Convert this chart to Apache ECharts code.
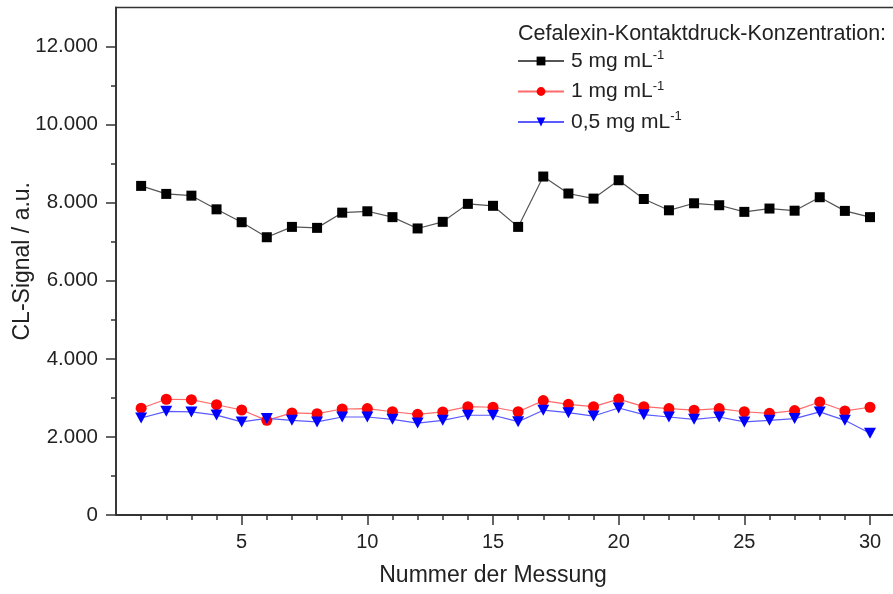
<!DOCTYPE html>
<html>
<head>
<meta charset="utf-8">
<script src="https://cdn.jsdelivr.net/npm/echarts@6/dist/echarts.min.js"></script>
<style>
  html, body { margin: 0; padding: 0; background: #fff; }
  #chart { width: 893px; height: 594px; }
</style>
</head>
<body>
<div id="chart"></div>
<script>
const messung = [1, 2, 3, 4, 5, 6, 7, 8, 9, 10, 11, 12, 13, 14, 15,
  16, 17, 18, 19, 20, 21, 22, 23, 24, 25, 26, 27, 28, 29, 30];
const werte5 = [8430, 8225, 8180, 7830, 7500, 7115, 7380, 7355, 7745, 7780,
  7630, 7340, 7510, 7970, 7920, 7380, 8670, 8235, 8105, 8575,
  8095, 7805, 7985, 7935, 7765, 7850, 7795, 8140, 7790, 7630];
const werte1 = [2735, 2965, 2955, 2825, 2690, 2425, 2615, 2595, 2715, 2725,
  2645, 2580, 2640, 2775, 2760, 2645, 2930, 2835, 2775, 2970,
  2775, 2725, 2685, 2725, 2645, 2605, 2675, 2895, 2665, 2760];
const werte05 = [2485, 2655, 2640, 2560, 2385, 2475, 2425, 2385, 2510, 2510,
  2450, 2355, 2425, 2555, 2555, 2390, 2685, 2620, 2535, 2740,
  2570, 2510, 2450, 2510, 2385, 2425, 2470, 2640, 2425, 2095];

const xMajor = [5, 10, 15, 20, 25, 30];
const xMinor = [1, 2, 3, 4, 6, 7, 8, 9, 11, 12, 13, 14, 16, 17, 18, 19,
  21, 22, 23, 24, 26, 27, 28, 29];
const yMajor = [0, 2000, 4000, 6000, 8000, 10000, 12000];
const yMinor = [1000, 3000, 5000, 7000, 9000, 11000];

const legendNamen = ['5 mg mL', '1 mg mL', '0,5 mg mL'];

const chart = echarts.init(document.getElementById('chart'), null, { renderer: 'canvas' });

const font = 'Liberation Sans, Arial, sans-serif';
const dunkel = '#222';

function paare(werte) {
  return messung.map((m, i) => [m, werte[i]]);
}

const option = {
  backgroundColor: '#fff',
  animation: false,
  title: {
    text: 'Cefalexin-Kontaktdruck-Konzentration:',
    left: 513,
    top: 18,
    textStyle: { fontFamily: font, fontSize: 21.5, fontWeight: 'normal', color: dunkel }
  },
  legend: {
    orient: 'vertical',
    left: 512,
    top: 44,
    itemWidth: 46,
    itemHeight: 11,
    itemGap: 8,
    textStyle: {
      fontFamily: font,
      fontSize: 21,
      color: dunkel,
      padding: [0, 0, 0, 2],
      rich: {
        sup: { fontFamily: font, fontSize: 13, color: dunkel, padding: [0, 0, 11, 0] }
      }
    },
    formatter: function (name) {
      return name + '{sup|-1}';
    },
    data: legendNamen
  },
  grid: {
    left: 116,
    top: 7.5,
    width: 800,
    height: 507.5,
    outerBoundsMode: 'none',
    containLabel: false,
    show: true,
    borderColor: '#333',
    borderWidth: 1.5
  },
  xAxis: [
    {
      type: 'value',
      min: 0,
      max: 31.83,
      name: 'Nummer der Messung',
      nameLocation: 'middle',
      nameGap: 49,
      nameMoveOverlap: false,
      nameTextStyle: { fontFamily: font, fontSize: 23, color: dunkel, padding: [0, 46, 0, 0] },
      axisLine: { lineStyle: { color: '#333', width: 1.8 } },
      axisTick: { customValues: xMajor, inside: false, length: 10, lineStyle: { color: '#333', width: 1.5 } },
      axisLabel: { customValues: xMajor, margin: 17, fontFamily: font, fontSize: 20, color: dunkel },
      splitLine: { show: false }
    },
    {
      type: 'value',
      min: 0,
      max: 31.83,
      position: 'bottom',
      axisLine: { show: false },
      axisTick: { customValues: xMinor, length: 5, lineStyle: { color: '#333', width: 1.5 } },
      axisLabel: { show: false },
      splitLine: { show: false }
    }
  ],
  yAxis: [
    {
      type: 'value',
      min: 0,
      max: 13000,
      name: 'CL-Signal / a.u.',
      nameLocation: 'middle',
      nameGap: 82,
      nameMoveOverlap: false,
      nameTextStyle: { fontFamily: font, fontSize: 23, color: dunkel },
      axisLine: { show: true, lineStyle: { color: '#333', width: 1.8 } },
      axisTick: { show: true, customValues: yMajor, length: 10, lineStyle: { color: '#333', width: 1.5 } },
      axisLabel: {
        customValues: yMajor,
        margin: 18,
        fontFamily: font,
        fontSize: 20.5,
        color: dunkel,
        formatter: function (v) {
          return v.toString().replace(/\B(?=(\d{3})+(?!\d))/g, '.');
        }
      },
      splitLine: { show: false }
    },
    {
      type: 'value',
      min: 0,
      max: 13000,
      position: 'left',
      axisLine: { show: false },
      axisTick: { show: true, customValues: yMinor, length: 5, lineStyle: { color: '#333', width: 1.5 } },
      axisLabel: { show: false },
      splitLine: { show: false }
    }
  ],
  series: [
    {
      name: legendNamen[0],
      type: 'line',
      data: paare(werte5),
      symbol: 'rect',
      symbolSize: 10,
      itemStyle: { color: '#000' },
      lineStyle: { color: '#555', width: 1.2 }
    },
    {
      name: legendNamen[1],
      type: 'line',
      data: paare(werte1),
      symbol: 'circle',
      symbolSize: 11,
      itemStyle: { color: '#f00' },
      lineStyle: { color: '#ff6a6a', width: 1.2 }
    },
    {
      name: legendNamen[2],
      type: 'line',
      data: paare(werte05),
      symbol: 'path://M0,0 L10,0 L5,9 Z',
      symbolSize: [12, 11],
      itemStyle: { color: '#00f' },
      lineStyle: { color: '#5a5aff', width: 1.2 }
    }
  ]
};

chart.setOption(option);
</script>
</body>
</html>
